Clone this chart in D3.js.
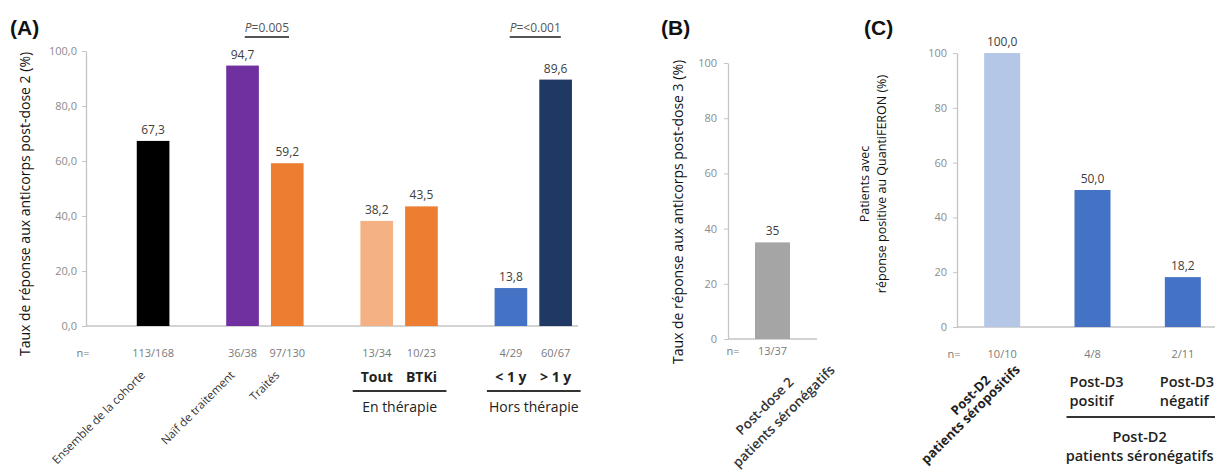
<!DOCTYPE html>
<html><head><meta charset="utf-8">
<script src="https://cdn.jsdelivr.net/npm/d3@7"></script>
<style>
body{margin:0;background:#fff}
text{font-family:"Open Sans",sans-serif}
</style>
</head><body>
<svg id="c" width="1215" height="474"></svg>
<script>
// ---------- Panel A data ----------
const groupsA = [["Ensemble de la cohorte"], ["Naïf de traitement", "Traités"], ["Tout", "BTKi"], ["< 1 y", "> 1 y"]];
const groupTitlesA = [null, null, "En thérapie", "Hors thérapie"];
const categoriesA = ["Ensemble de la cohorte", "Naïf de traitement", "Traités", "Tout", "BTKi", "< 1 y", "> 1 y"];
const valuesA = [67.3, 94.7, 59.2, 38.2, 43.5, 13.8, 89.6];
const nA = ["113/168", "36/38", "97/130", "13/34", "10/23", "4/29", "60/67"];
const colorsA = ["#000000", "#7030a0", "#ed7d31", "#f4b183", "#ed7d31", "#4472c4", "#1f3864"];
const ticksA = [0, 20, 40, 60, 80, 100];
const pTests = [["P", "=0.005", "Naïf de traitement", "Traités"], ["P", "=<0.001", "< 1 y", "> 1 y"]];
const titleA = "Taux de réponse aux anticorps post-dose 2 (%)";

// ---------- Panel B data ----------
const categoriesB = ["Post-dose 2 patients séronégatifs"];
const labelLinesB = [["Post-dose 2", "patients séronégatifs"]];
const valuesB = [35];
const nB = ["13/37"];
const colorsB = ["#a5a5a5"];
const ticksB = [0, 20, 40, 60, 80, 100];
const titleB = "Taux de réponse aux anticorps post-dose 3 (%)";

// ---------- Panel C data ----------
const categoriesC = ["Post-D2 patients séropositifs", "Post-D3 positif", "Post-D3 négatif"];
const labelLinesC = [["Post-D2", "patients séropositifs"], ["Post-D3", "positif"], ["Post-D3", "négatif"]];
const valuesC = [100.0, 50.0, 18.2];
const nC = ["10/10", "4/8", "2/11"];
const colorsC = ["#b4c7e7", "#4472c4", "#4472c4"];
const ticksC = [0, 20, 40, 60, 80, 100];
const groupTitleC = ["Post-D2", "patients séronégatifs"];
const titleC = ["Patients avec", "réponse positive au QuantiFERON (%)"];

// ---------- drawing ----------
const svg = d3.select("#c");
const loc = d3.formatLocale({decimal: ",", thousands: " ", grouping: [3], currency: ["", "€"]});
const f1 = loc.format(".1f"), f0 = loc.format("d");
const AXIS = "#c4c4c4", TICKTXT = "#8c8c8c", VAL = "#404040", NTXT = "#7a7a7a";

function yAxis(g, scale, ticks, fmt, pad) {
  g.call(d3.axisLeft(scale).tickValues(ticks).tickFormat(fmt).tickSize(4).tickSizeOuter(0).tickPadding(pad));
  g.select(".domain").attr("stroke", AXIS).attr("stroke-width", 1.3);
  g.selectAll(".tick line").attr("stroke", AXIS);
  g.selectAll(".tick text").attr("fill", TICKTXT).style("font-size", "11px").style("font-family", "Open Sans");
}
function panelLetter(x, t) {
  svg.append("text").attr("x", x).attr("y", 35).text(t)
    .style("font-family", "Liberation Sans, Arial").style("font-weight", "bold").style("font-size", "21px").attr("fill", "#111");
}
function bars(g, cats, vals, cols, x, y, bw, fmt) {
  const c = d => x(d) + x.bandwidth() / 2;
  g.selectAll(null).data(cats).enter().append("rect")
    .attr("x", (d) => c(d) - bw / 2).attr("width", bw)
    .attr("y", (d, i) => y(vals[i])).attr("height", (d, i) => y(0) - y(vals[i]))
    .attr("fill", (d, i) => cols[i]);
  g.selectAll(null).data(cats).enter().append("text")
    .attr("x", c).attr("y", (d, i) => y(vals[i]) - 7).attr("text-anchor", "middle")
    .style("font-size", "12px").attr("fill", VAL).text((d, i) => fmt(vals[i]));
}
function nRow(g, cats, ns, x, nx, yy) {
  const c = d => x(d) + x.bandwidth() / 2;
  g.append("text").attr("x", nx).attr("y", yy).attr("text-anchor", "middle").style("font-size", "11px").attr("fill", NTXT).text("n=");
  g.selectAll(null).data(cats).enter().append("text")
    .attr("x", c).attr("y", yy).attr("text-anchor", "middle").style("font-size", "11px").attr("fill", NTXT)
    .text((d, i) => ns[i]);
}

// ===== Panel A =====
panelLetter(10, "(A)");
const gA = svg.append("g");
const yA = d3.scaleLinear().domain([0, 100]).range([326, 51]);
const slots = [];
groupsA.forEach((g, i) => { slots.push("_sp" + i); g.forEach(c => slots.push(c)); });
const xA = d3.scaleBand().domain(slots).range([86, 578]);
const cA = d => xA(d) + xA.bandwidth() / 2;
gA.append("g").attr("transform", "translate(86,0)").call(g => yAxis(g, yA, ticksA, f1, 5));
gA.append("line").attr("x1", 86).attr("x2", 578).attr("y1", yA(0)).attr("y2", yA(0)).attr("stroke", AXIS).attr("stroke-width", 1.3);
bars(gA, categoriesA, valuesA, colorsA, xA, yA, xA.bandwidth() * 0.73, f1);
nRow(gA, categoriesA, nA, xA, 83, 357);
gA.append("text").attr("transform", "translate(24,204) rotate(-90)").attr("text-anchor", "middle")
  .attr("dominant-baseline", "central").style("font-size", "14px").attr("fill", "#111").text(titleA);
// category labels
groupsA.forEach((grp, gi) => {
  if (groupTitlesA[gi] === null) {
    grp.forEach(c => {
      gA.append("text").attr("transform", "translate(" + (cA(c) - 10) + ",373) rotate(-45)")
        .attr("text-anchor", "end").attr("dy", "0.35em").style("font-size", "11.5px").attr("fill", "#333").text(c);
    });
  } else {
    grp.forEach(c => {
      gA.append("text").attr("x", cA(c)).attr("y", 382).attr("text-anchor", "middle")
        .style("font-size", "14px").style("font-weight", "bold").attr("fill", "#222").text(c);
    });
    const x1 = cA(grp[0]) - 24, x2 = cA(grp[grp.length - 1]) + 25;
    gA.append("line").attr("x1", x1).attr("x2", x2).attr("y1", 391).attr("y2", 391).attr("stroke", "#333").attr("stroke-width", 2);
    gA.append("text").attr("x", (x1 + x2) / 2).attr("y", 412).attr("text-anchor", "middle")
      .style("font-size", "14px").attr("fill", "#222").text(groupTitlesA[gi]);
  }
});
// p-values
pTests.forEach(p => {
  const mx = (cA(p[2]) + cA(p[3])) / 2 + 2;
  const t = gA.append("text").attr("x", mx).attr("y", 32).attr("text-anchor", "middle").style("font-size", "12px").attr("fill", "#555");
  t.append("tspan").style("font-style", "italic").text(p[0]);
  t.append("tspan").text(p[1]);
  const w = t.node().getComputedTextLength();
  gA.append("line").attr("x1", mx - w / 2).attr("x2", mx + w / 2).attr("y1", 37).attr("y2", 37).attr("stroke", "#555").attr("stroke-width", 1.8);
});

// ===== Panel B =====
panelLetter(661, "(B)");
const gB = svg.append("g");
const yB = d3.scaleLinear().domain([0, 100]).range([339, 63]);
const xB = d3.scaleBand().domain(categoriesB).range([728, 817]);
const cB = d => xB(d) + xB.bandwidth() / 2;
gB.append("g").attr("transform", "translate(728,0)").call(g => yAxis(g, yB, ticksB, f0, 7));
gB.append("line").attr("x1", 728).attr("x2", 817).attr("y1", yB(0)).attr("y2", yB(0)).attr("stroke", AXIS).attr("stroke-width", 1.3);
bars(gB, categoriesB, valuesB, colorsB, xB, yB, 35, f0);
nRow(gB, categoriesB, nB, xB, 733, 355);
gB.append("text").attr("transform", "translate(677,212) rotate(-90)").attr("text-anchor", "middle")
  .attr("dominant-baseline", "central").style("font-size", "14px").attr("fill", "#111").text(titleB);
categoriesB.forEach((c, i) => {
  const offs = [[-8, 406], [11, 416]];
  labelLinesB[i].forEach((ln, j) => {
    gB.append("text").attr("transform", "translate(" + (cB(c) + offs[j][0]) + "," + offs[j][1] + ") rotate(-45)")
      .attr("text-anchor", "middle").attr("dominant-baseline", "central")
      .style("font-size", "13.5px").style("font-weight", "600").attr("fill", "#333").text(ln);
  });
});

// ===== Panel C =====
panelLetter(864, "(C)");
const gC = svg.append("g");
const yC = d3.scaleLinear().domain([0, 100]).range([327, 53]);
const xC = d3.scaleBand().domain(categoriesC).range([957, 1228]);
const cC = d => xC(d) + xC.bandwidth() / 2;
gC.append("g").attr("transform", "translate(957,0)").call(g => yAxis(g, yC, ticksC, f0, 6));
gC.append("line").attr("x1", 957).attr("x2", 1215).attr("y1", yC(0)).attr("y2", yC(0)).attr("stroke", AXIS).attr("stroke-width", 1.3);
bars(gC, categoriesC, valuesC, colorsC, xC, yC, 36, f1);
nRow(gC, categoriesC, nC, xC, 954, 358);
titleC.forEach((ln, j) => {
  gC.append("text").attr("transform", "translate(" + (864 + j * 17) + ",184) rotate(-90)").attr("text-anchor", "middle")
    .attr("dominant-baseline", "central").style("font-size", "12.5px").attr("fill", "#111").text(ln);
});
// first category: rotated
{
  const c = categoriesC[0];
  const offs = [[-32, 395], [-32, 414]];
  labelLinesC[0].forEach((ln, j) => {
    gC.append("text").attr("transform", "translate(" + (cC(c) + offs[j][0]) + "," + offs[j][1] + ") rotate(-45)")
      .attr("text-anchor", "middle").attr("dominant-baseline", "central")
      .style("font-size", "13px").style("font-weight", "bold").attr("fill", "#222").text(ln);
  });
}
categoriesC.slice(1).forEach((c, k) => {
  labelLinesC[k + 1].forEach((ln, j) => {
    gC.append("text").attr("x", cC(c) - 23).attr("y", 387 + j * 19)
      .style("font-size", "14.5px").style("font-weight", "600").attr("fill", "#222").text(ln);
  });
});
{
  const x1 = cC(categoriesC[1]) - 26;
  gC.append("line").attr("x1", x1).attr("x2", 1215).attr("y1", 417).attr("y2", 417).attr("stroke", "#333").attr("stroke-width", 2);
  const mx = (cC(categoriesC[1]) + cC(categoriesC[2])) / 2 + 2;
  groupTitleC.forEach((ln, j) => {
    gC.append("text").attr("x", mx).attr("y", 442 + j * 19).attr("text-anchor", "middle")
      .style("font-size", "14.5px").style("font-weight", "600").attr("fill", "#222").text(ln);
  });
}
</script>
</body></html>
